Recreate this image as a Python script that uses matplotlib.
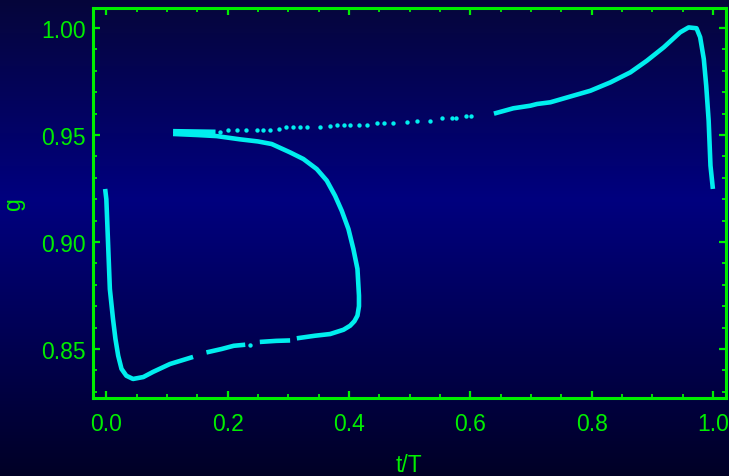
import numpy as np
import matplotlib
matplotlib.use("Agg")
import matplotlib.pyplot as plt
from matplotlib.colors import LinearSegmentedColormap
from matplotlib.ticker import MultipleLocator

plt.rcParams['font.family'] = ['Liberation Sans', 'DejaVu Sans']

# ---- data ----
# left descent + beginning of lower branch
seg1_x = [-0.002, 0.000, 0.003, 0.0058, 0.011, 0.015, 0.0195, 0.025, 0.033, 0.044, 0.061, 0.077, 0.105, 0.143]
seg1_y = [0.9248, 0.920, 0.8983, 0.878, 0.864, 0.8547, 0.8469, 0.8407, 0.8375, 0.836, 0.8369, 0.8393, 0.843, 0.8463]
seg2_x = [0.165, 0.190, 0.210, 0.229]
seg2_y = [0.8484, 0.8500, 0.8515, 0.8520]
dot_x = [0.237]
dot_y = [0.8520]
seg3_x = [0.253, 0.280, 0.303]
seg3_y = [0.8533, 0.8538, 0.8540]
# rest of lower branch, right side of loop, and return to the left
seg4_x = [0.314, 0.344, 0.369, 0.391, 0.402, 0.409, 0.414, 0.4165, 0.4165, 0.414, 0.4073, 0.3991,
          0.3881, 0.3771, 0.3634, 0.3469, 0.3248, 0.3028, 0.2726, 0.250, 0.220, 0.182, 0.150, 0.110]
seg4_y = [0.855, 0.8562, 0.857, 0.859, 0.8609, 0.863, 0.8656, 0.870, 0.8749, 0.8874, 0.8967, 0.9061,
          0.9146, 0.9216, 0.9287, 0.9341, 0.9388, 0.9419, 0.9458, 0.9470, 0.948, 0.9495, 0.9500, 0.9505]
# start of the upper branch
seg5_x = [0.110, 0.180]
seg5_y = [0.9518, 0.9515]
# dotted part of the upper branch
upper_dots_x = [0.187, 0.201, 0.215, 0.231, 0.248, 0.259, 0.270, 0.284, 0.297, 0.308, 0.319, 0.330,
                0.352, 0.368, 0.380, 0.391, 0.402, 0.416, 0.429, 0.446, 0.457, 0.473, 0.495, 0.512,
                0.534, 0.553, 0.570, 0.577, 0.593, 0.601]
upper_dots_y = [0.9515, 0.9525, 0.9525, 0.9525, 0.9525, 0.9525, 0.9525, 0.9528, 0.9536, 0.9536, 0.9536,
                0.9536, 0.9536, 0.9540, 0.9548, 0.9548, 0.9548, 0.9548, 0.9548, 0.9556, 0.9556, 0.9556,
                0.9559, 0.9565, 0.9567, 0.9580, 0.9580, 0.9580, 0.9590, 0.9590]
# upper right rise, peak and fall
seg6_x = [0.639, 0.671, 0.699, 0.710, 0.732, 0.765, 0.798, 0.831, 0.864, 0.891, 0.919, 0.946, 0.960,
          0.973, 0.979, 0.985, 0.989, 0.993, 0.996, 1.000]
seg6_y = [0.9600, 0.9625, 0.9637, 0.9645, 0.9653, 0.968, 0.9707, 0.9746, 0.9793, 0.9847, 0.991, 0.998,
          1.0003, 0.9999, 0.9957, 0.9855, 0.973, 0.9567, 0.9357, 0.9248]

xticks = [0.0, 0.2, 0.4, 0.6, 0.8, 1.0]
yticks = [0.85, 0.90, 0.95, 1.00]

GREEN = '#00ee00'
CYAN = '#00eeee'

fig = plt.figure(figsize=(7.29, 4.77), dpi=100)

# background gradient
bg = fig.add_axes([0, 0, 1, 1], zorder=-10)
cmap = LinearSegmentedColormap.from_list(
    'bg', [(0.0, '#06063a'), (0.42, '#00007f'), (1.0, '#000026')])
grad = np.linspace(0, 1, 256).reshape(-1, 1)
bg.imshow(grad, aspect='auto', cmap=cmap, extent=[0, 1, 0, 1], origin='upper')
bg.set_axis_off()

ax = fig.add_axes([93/729, 1 - 399/477, (726 - 93)/729, (399 - 8.5)/477])
ax.patch.set_alpha(0)

lw = 3.3
for xs, ys in [(seg1_x, seg1_y), (seg2_x, seg2_y), (seg3_x, seg3_y),
               (seg4_x, seg4_y), (seg5_x, seg5_y), (seg6_x, seg6_y)]:
    ax.plot(xs, ys, color=CYAN, lw=lw, solid_capstyle='butt', solid_joinstyle='round')
ax.scatter(dot_x, dot_y, s=10, color=CYAN, linewidths=0)
ax.scatter(upper_dots_x, upper_dots_y, s=10, color=CYAN, linewidths=0)

ax.set_xlim(-0.022, 1.0216)
ax.set_ylim(0.8271, 1.0096)
ax.set_xticks(xticks)
ax.set_xticklabels([f'{v:.1f}' for v in xticks])
ax.set_yticks(yticks)
ax.set_yticklabels([f'{v:.2f}' for v in yticks])
ax.xaxis.set_minor_locator(MultipleLocator(0.05))
ax.yaxis.set_minor_locator(MultipleLocator(0.01))

for s in ax.spines.values():
    s.set_color(GREEN)
    s.set_linewidth(2.2)
ax.tick_params(which='both', direction='in', top=True, right=True, color=GREEN,
               labelcolor=GREEN, labelsize=16.5)
ax.tick_params(which='major', length=5, width=1.6)
ax.tick_params(which='minor', length=3, width=1.3)
ax.tick_params(axis='x', which='major', pad=10)
ax.tick_params(axis='y', which='major', pad=5)

fig.text(409/729, 1 - 466/477, 't/T', color=GREEN, fontsize=16.5, ha='center', va='center')
fig.text(14/729, 1 - 204/477, 'g', color=GREEN, fontsize=16.5, ha='center', va='center', rotation=90)

fig.savefig('out.png', dpi=100)
